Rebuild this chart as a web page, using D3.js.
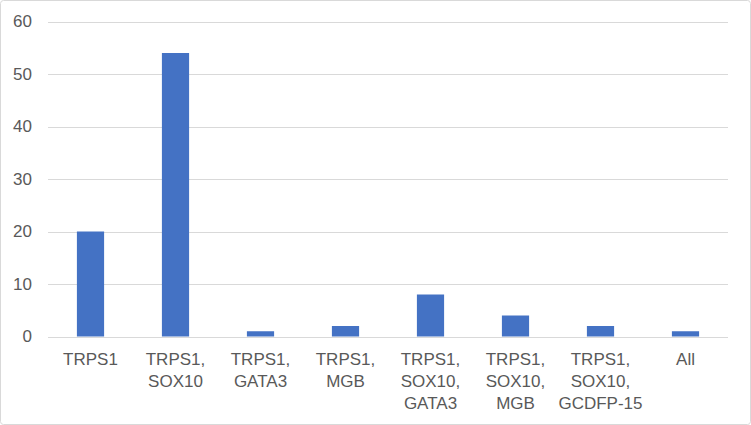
<!DOCTYPE html>
<html>
<head>
<meta charset="utf-8">
<script src="https://cdn.jsdelivr.net/npm/d3@7"></script>
<style>
  body { margin: 0; background: #fff; }
  svg text { font-family: "Liberation Sans", Arial, sans-serif; fill: #595959; }
</style>
</head>
<body>
<svg id="chart" width="751" height="425"></svg>
<script>
// categories (each line of a label is one entry)
const categories = [
  ["TRPS1"],
  ["TRPS1,", "SOX10"],
  ["TRPS1,", "GATA3"],
  ["TRPS1,", "MGB"],
  ["TRPS1,", "SOX10,", "GATA3"],
  ["TRPS1,", "SOX10,", "MGB"],
  ["TRPS1,", "SOX10,", "GCDFP-15"],
  ["All"]
];
const values = [20, 54, 1, 2, 8, 4, 2, 1];
const yTicks = [0, 10, 20, 30, 40, 50, 60];

const svg = d3.select("svg#chart");
const width = +svg.attr("width");
const height = +svg.attr("height");
const margin = { top: 21.5, right: 23, bottom: 88.5, left: 48 };

// chart border
svg.append("rect")
  .attr("x", 0.5).attr("y", 0.5)
  .attr("width", width - 1).attr("height", height - 1)
  .attr("rx", 3)
  .attr("fill", "#fff")
  .attr("stroke", "#d9d9d9");

const keys = categories.map(d => d.join(" "));

const x = d3.scaleBand()
  .domain(keys)
  .range([margin.left, width - margin.right])
  .paddingInner(0.68)
  .paddingOuter(0.34);

const y = d3.scaleLinear()
  .domain([0, 60])
  .range([height - margin.bottom, margin.top]);

// gridlines
svg.append("g")
  .selectAll("line")
  .data(yTicks)
  .join("line")
  .attr("x1", margin.left)
  .attr("x2", width - margin.right)
  .attr("y1", d => Math.round(y(d)) + 0.5)
  .attr("y2", d => Math.round(y(d)) + 0.5)
  .attr("stroke", "#d9d9d9")
  .attr("stroke-width", 1);

// y tick labels
svg.append("g")
  .selectAll("text")
  .data(yTicks)
  .join("text")
  .attr("x", margin.left - 16)
  .attr("y", d => y(d))
  .attr("dy", "0.35em")
  .attr("text-anchor", "end")
  .style("font-size", "17px")
  .text(d => d);

// bars
svg.append("g")
  .selectAll("rect")
  .data(values)
  .join("rect")
  .attr("x", (d, i) => x(keys[i]))
  .attr("width", x.bandwidth())
  .attr("y", d => y(d))
  .attr("height", d => y(0) - y(d))
  .attr("fill", "#4472c4");

// category labels
const labels = svg.append("g")
  .selectAll("text")
  .data(categories)
  .join("text")
  .attr("text-anchor", "middle")
  .attr("x", (d, i) => x(keys[i]) + x.bandwidth() / 2)
  .attr("y", y(0) + 28)
  .style("font-size", "17px");

labels.selectAll("tspan")
  .data(d => d)
  .join("tspan")
  .attr("x", function () { return d3.select(this.parentNode).attr("x"); })
  .attr("dy", (d, i) => i === 0 ? 0 : 22)
  .text(d => d);
</script>
</body>
</html>
